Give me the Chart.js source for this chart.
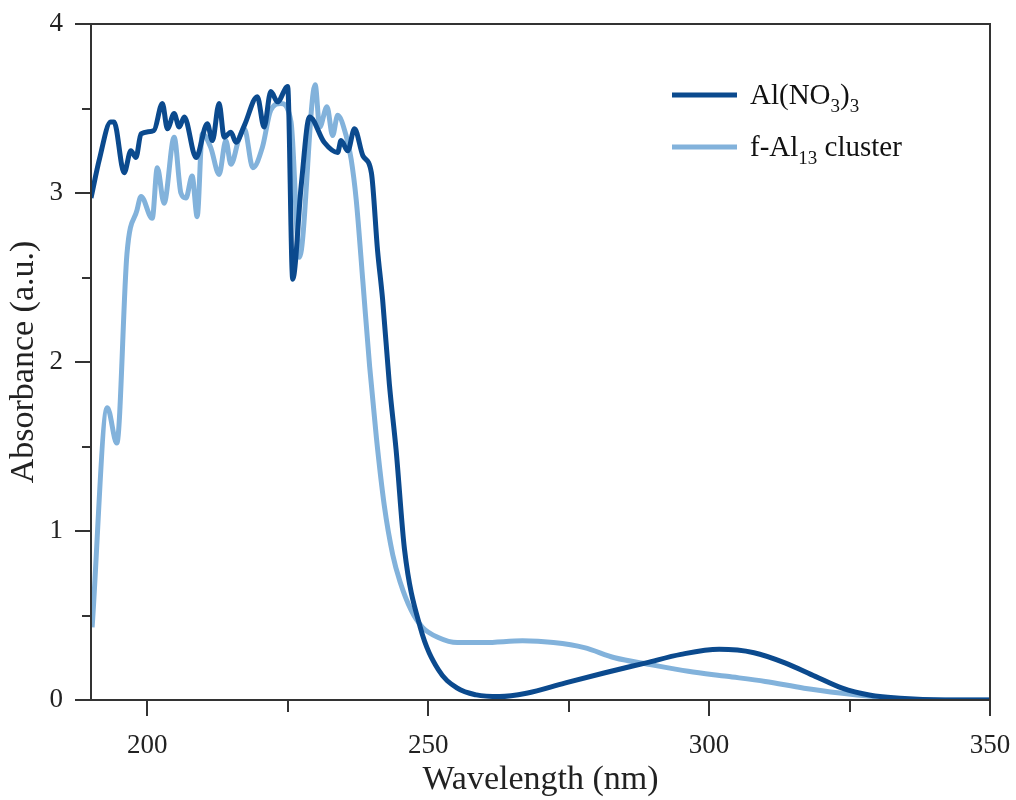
<!DOCTYPE html>
<html>
<head>
<meta charset="utf-8">
<script src="https://cdn.jsdelivr.net/npm/chart.js@4.4.1/dist/chart.umd.min.js"></script>
<style>
  body { margin: 0; background: #fff; }
  #chart { display: block; }
</style>
</head>
<body>
<canvas id="chart" width="1016" height="800"></canvas>
<script>
// Al(NO3)3 spectrum
const alWave = [190, 191.5, 193.5, 194.1, 195.9, 197.1, 198, 198.9, 201.2, 202.7, 203.6, 204.8, 205.7, 206.6, 208.7, 210.7, 211.6, 212.8, 213.7, 214.9, 215.8, 217.3, 219.6, 220.8, 222, 223.2, 225, 225.9, 227.4, 228.9, 231.5, 233.9, 234.5, 235.7, 236.9, 238.4, 239.9, 241, 241.9, 243.1, 244.3, 245.8, 248.6, 251.8, 255.2, 258.6, 262.7, 267.5, 274.3, 281.3, 288.8, 295, 301.8, 308, 313.5, 318.9, 323.7, 328.5, 334, 342, 350];
const alAbs = [2.97, 3.2, 3.42, 3.42, 3.12, 3.25, 3.21, 3.35, 3.37, 3.53, 3.38, 3.47, 3.39, 3.45, 3.21, 3.41, 3.31, 3.53, 3.33, 3.36, 3.30, 3.40, 3.57, 3.39, 3.60, 3.54, 3.63, 2.49, 3.04, 3.45, 3.30, 3.24, 3.31, 3.25, 3.38, 3.22, 3.12, 2.66, 2.37, 1.87, 1.48, 0.89, 0.43, 0.18, 0.07, 0.03, 0.02, 0.04, 0.10, 0.16, 0.22, 0.27, 0.30, 0.28, 0.22, 0.14, 0.07, 0.03, 0.01, 0.0, 0.0];

// f-Al13 cluster spectrum
const clusterWave = [190.2, 192.9, 194.6, 196.4, 198.2, 198.9, 200.9, 201.8, 203, 204.8, 206, 206.9, 208, 208.9, 209.8, 211.3, 212.8, 214, 214.9, 216.4, 217.3, 218.8, 220.5, 222, 223.8, 225.6, 227.1, 229.9, 230.7, 232, 233, 233.9, 235.4, 236.3, 237.2, 238.4, 239.6, 240.8, 242.2, 243.7, 245, 247, 249, 251.8, 255.2, 260, 266.8, 272.3, 277.8, 283.2, 289.5, 296.3, 303.2, 310, 316.9, 323.7, 329.2, 336, 350];
const clusterAbs = [0.43, 1.73, 1.52, 2.64, 2.9, 2.98, 2.85, 3.15, 2.94, 3.33, 3.0, 2.97, 3.10, 2.86, 3.35, 3.27, 3.11, 3.31, 3.17, 3.33, 3.38, 3.15, 3.27, 3.49, 3.53, 3.42, 2.62, 3.64, 3.39, 3.51, 3.34, 3.46, 3.34, 3.20, 2.96, 2.47, 1.97, 1.55, 1.15, 0.86, 0.7, 0.53, 0.43, 0.37, 0.34, 0.34, 0.35, 0.34, 0.31, 0.25, 0.21, 0.17, 0.14, 0.11, 0.07, 0.04, 0.02, 0.0, 0.0];

const xTicks = [200, 225, 250, 275, 300, 325, 350];
const xLabels = [200, 250, 300, 350];
const yTicks = [0, 0.5, 1, 1.5, 2, 2.5, 3, 3.5, 4];
const yLabels = [0, 1, 2, 3, 4];

// legend entries: [main text, subscript, main text, subscript]
const legendParts = [
  ['Al(NO', '3', ')', '3'],
  ['f-Al', '13', ' cluster', '']
];

const darkBlue = '#0b4a8e';
const lightBlue = '#82b2db';
const axisColor = '#333333';
const serif = "'Liberation Serif', 'Times New Roman', serif";

function toPoints(xs, ys) {
  return xs.map((x, i) => ({ x: x, y: ys[i] }));
}

// box, major/minor ticks and the legend with subscripts
const frame = {
  id: 'frame',
  afterDraw(chart) {
    const ctx = chart.ctx;
    const area = chart.chartArea;
    const xs = chart.scales.x;
    const ys = chart.scales.y;
    ctx.save();
    ctx.strokeStyle = axisColor;
    ctx.lineWidth = 2;
    ctx.strokeRect(area.left, area.top, area.right - area.left, area.bottom - area.top);

    ctx.beginPath();
    for (let v of xTicks) {
      const px = Math.round(xs.getPixelForValue(v));
      const len = xLabels.includes(v) ? 16 : 12;
      ctx.moveTo(px, area.bottom);
      ctx.lineTo(px, area.bottom + len);
    }
    for (let v of yTicks) {
      const py = Math.round(ys.getPixelForValue(v));
      const len = yLabels.includes(v) ? 16 : 9;
      ctx.moveTo(area.left, py);
      ctx.lineTo(area.left - len, py);
    }
    ctx.stroke();

    // legend
    const colors = [darkBlue, lightBlue];
    const lx = area.left + 581;
    let ly = area.top + 71;
    for (let i = 0; i < legendParts.length; i++) {
      ctx.strokeStyle = colors[i];
      ctx.lineWidth = 5;
      ctx.beginPath();
      ctx.moveTo(lx, ly);
      ctx.lineTo(lx + 65, ly);
      ctx.stroke();

      ctx.fillStyle = '#111';
      ctx.textBaseline = 'alphabetic';
      let tx = lx + 78;
      const base = ly + 9;
      const parts = legendParts[i];
      for (let j = 0; j < parts.length; j++) {
        const isSub = j % 2 === 1;
        ctx.font = (isSub ? '19px ' : '29px ') + serif;
        ctx.fillText(parts[j], tx, isSub ? base + 8 : base);
        tx += ctx.measureText(parts[j]).width;
      }
      ly += 52;
    }
    ctx.restore();
  }
};

new Chart(document.getElementById('chart'), {
  type: 'line',
  data: {
    datasets: [
      {
        label: 'Al(NO3)3',
        data: toPoints(alWave, alAbs),
        borderColor: darkBlue,
        borderWidth: 5,
        pointRadius: 0,
        cubicInterpolationMode: 'monotone'
      },
      {
        label: 'f-Al13 cluster',
        data: toPoints(clusterWave, clusterAbs),
        borderColor: lightBlue,
        borderWidth: 5,
        pointRadius: 0,
        cubicInterpolationMode: 'monotone'
      }
    ]
  },
  options: {
    responsive: false,
    devicePixelRatio: 1,
    animation: false,
    layout: { padding: { top: 24, right: 26, left: 0, bottom: 0 } },
    plugins: {
      legend: { display: false },
      tooltip: { enabled: false }
    },
    scales: {
      x: {
        type: 'linear',
        min: 190,
        max: 350,
        afterBuildTicks: (scale) => { scale.ticks = xTicks.map(v => ({ value: v })); },
        afterFit: (scale) => {
          scale.height = 100;
          scale.paddingLeft = 0;
          scale.paddingRight = 0;
        },
        grid: { display: false, drawTicks: false },
        border: { display: false },
        ticks: {
          padding: 30,
          autoSkip: false,
          maxRotation: 0,
          color: '#222',
          font: { family: serif, size: 27 },
          callback: (v) => xLabels.includes(v) ? String(v) : ''
        },
        title: {
          display: true,
          text: 'Wavelength (nm)',
          color: '#222',
          font: { family: serif, size: 34 },
          padding: { top: 0, bottom: 0 }
        }
      },
      y: {
        min: 0,
        max: 4,
        afterBuildTicks: (scale) => { scale.ticks = yTicks.map(v => ({ value: v })); },
        afterFit: (scale) => {
          scale.width = 91;
          scale.paddingTop = 0;
          scale.paddingBottom = 0;
        },
        grid: { display: false, drawTicks: false },
        border: { display: false },
        ticks: {
          padding: 28,
          autoSkip: false,
          color: '#222',
          font: { family: serif, size: 27 },
          callback: (v) => yLabels.includes(v) ? String(v) : ''
        },
        title: {
          display: true,
          text: 'Absorbance (a.u.)',
          color: '#222',
          font: { family: serif, size: 34 },
          padding: { top: 4, bottom: 0 }
        }
      }
    }
  },
  plugins: [frame]
});
</script>
</body>
</html>
